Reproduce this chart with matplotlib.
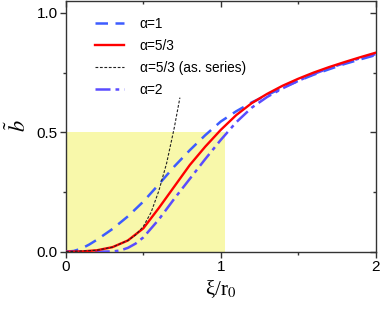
import numpy as np
import matplotlib
matplotlib.use("Agg")
import matplotlib.pyplot as plt
from matplotlib.ticker import MultipleLocator, FuncFormatter, FormatStrFormatter

plt.rcParams['font.family'] = ['Liberation Sans', 'DejaVu Sans']
plt.rcParams['mathtext.fontset'] = 'stix'

# alpha = 1 (dashed blue)
x_a1 = [0.0, 0.05, 0.1, 0.15, 0.2, 0.3, 0.4, 0.5, 0.6, 0.7, 0.8, 0.9, 1.0, 1.1, 1.2, 1.3, 1.4, 1.5, 1.6, 1.7, 1.8, 1.9, 2.0]
y_a1 = [0.0, 0.003, 0.013, 0.03, 0.05, 0.095, 0.148, 0.21, 0.282, 0.357, 0.425, 0.488, 0.545, 0.588, 0.625, 0.656, 0.687, 0.715, 0.741, 0.764, 0.786, 0.805, 0.823]

# alpha = 5/3 (solid red)
x_a53 = [0.0, 0.1, 0.2, 0.3, 0.4, 0.5, 0.6, 0.7, 0.8, 0.9, 1.0, 1.1, 1.2, 1.3, 1.4, 1.5, 1.6, 1.7, 1.8, 1.9, 2.0]
y_a53 = [0.0, 0.001, 0.006, 0.019, 0.047, 0.098, 0.183, 0.273, 0.363, 0.44, 0.51, 0.572, 0.622, 0.661, 0.695, 0.724, 0.75, 0.773, 0.794, 0.814, 0.833]

# alpha = 5/3 asymptotic series (thin black dashed)
x_ser = [0.0, 0.2, 0.3, 0.4, 0.45, 0.5, 0.55, 0.6, 0.65, 0.7, 0.736]
y_ser = [0.0, 0.006, 0.019, 0.047, 0.07, 0.106, 0.165, 0.255, 0.37, 0.52, 0.645]

# alpha = 2 (dash-dot blue)
x_a2 = [0.0, 0.2, 0.3, 0.35, 0.4, 0.45, 0.5, 0.6, 0.7, 0.8, 0.9, 1.0, 1.1, 1.2, 1.3, 1.4, 1.5, 1.6, 1.7, 1.8, 1.9, 2.0]
y_a2 = [0.0, 0.0, 0.001, 0.005, 0.016, 0.034, 0.06, 0.135, 0.222, 0.305, 0.388, 0.468, 0.542, 0.603, 0.648, 0.684, 0.715, 0.744, 0.768, 0.79, 0.81, 0.827]

labels = ['α=1', 'α=5/3', 'α=5/3 (as. series)', 'α=2']

fig = plt.figure(figsize=(3.82, 3.09), dpi=100)
ax = fig.add_axes([66/382, 1 - 251.7/309, (375.5-66)/382, (251.7-0.7)/309])

ax.axvspan(0, 1.027, ymin=0, ymax=0.5/1.051, color='#f8f8aa', lw=0, zorder=0)

ax.plot(x_a1, y_a1, color='#3d5cff', lw=1.8, dashes=(5, 3), label=labels[0], zorder=3)
ax.plot(x_a53, y_a53, color='#ff0000', lw=1.7, label=labels[1], zorder=4)
ax.plot(x_ser, y_ser, color='#222222', lw=0.8, dashes=(2.5, 1.5), label=labels[2], zorder=5)
ax.plot(x_a2, y_a2, color='#5a4cff', lw=1.8, dashes=(6, 2, 1.5, 2), label=labels[3], zorder=3)

ax.set_xlim(0, 2)
ax.set_ylim(0, 1.051)
ax.xaxis.set_major_locator(MultipleLocator(1))
ax.xaxis.set_minor_locator(MultipleLocator(0.5))
ax.yaxis.set_major_locator(MultipleLocator(0.5))
ax.yaxis.set_minor_locator(MultipleLocator(0.25))
ax.xaxis.set_major_formatter(FuncFormatter(lambda v, p: f'{v:.0f}'))
ax.yaxis.set_major_formatter(FormatStrFormatter('%.1f'))

for s in ax.spines.values():
    s.set_color('#333333')
    s.set_linewidth(1.0)

ax.tick_params(which='both', top=False, right=False, direction='out', color='#333333', labelsize=11)
ax.tick_params(which='major', length=4, width=1, pad=2)
ax.tick_params(which='minor', length=2.5, width=1)

# inward ticks on top and right
sec_x = ax.secondary_xaxis('top')
sec_x.xaxis.set_major_locator(MultipleLocator(1))
sec_x.xaxis.set_minor_locator(MultipleLocator(0.5))
sec_x.tick_params(which='both', direction='in', labeltop=False, color='#333333')
sec_x.tick_params(which='major', length=4, width=1)
sec_x.tick_params(which='minor', length=2.5, width=1)
sec_x.spines['top'].set_visible(False)
sec_y = ax.secondary_yaxis('right')
sec_y.yaxis.set_major_locator(MultipleLocator(0.5))
sec_y.yaxis.set_minor_locator(MultipleLocator(0.25))
sec_y.tick_params(which='both', direction='in', labelright=False, color='#333333')
sec_y.tick_params(which='major', length=4, width=1)
sec_y.tick_params(which='minor', length=2.5, width=1)
sec_y.spines['right'].set_visible(False)

ax.set_xlabel('ξ/r$_0$', fontsize=15, labelpad=3, family=['Liberation Serif', 'DejaVu Serif'])
ax.set_ylabel(r'$\tilde{b}$', fontsize=16, labelpad=4)

leg = ax.legend(loc='upper left', bbox_to_anchor=(0.055, 0.985), frameon=False,
                fontsize=9.8, handlelength=2.1, handletextpad=1.15, labelspacing=0.6)

fig.savefig('out.png', dpi=100)
